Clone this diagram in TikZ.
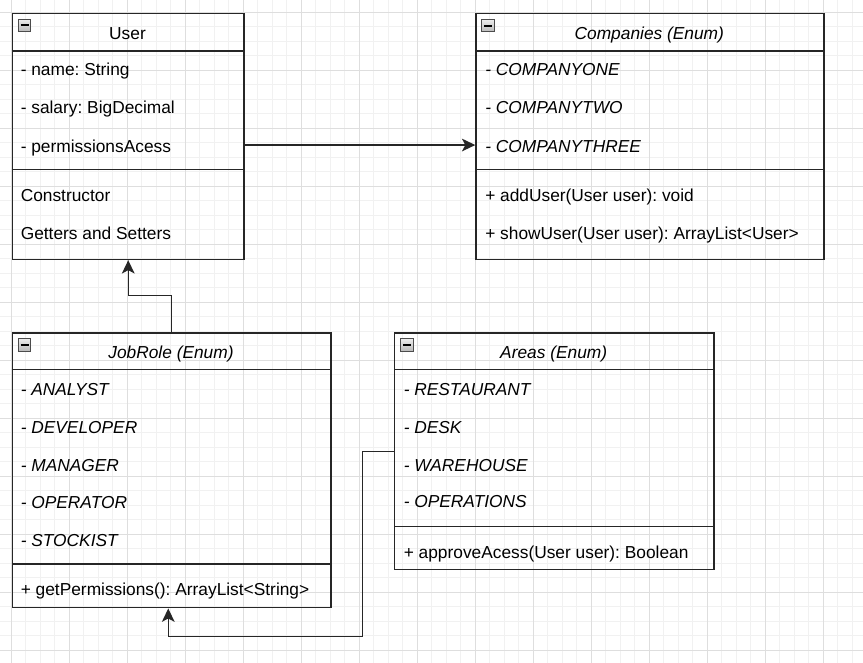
\documentclass[tikz,border=0pt]{standalone}
\usepackage{fontspec}
\setmainfont{Liberation Sans}
\usetikzlibrary{arrows.meta}
\usetikzlibrary{calc}
\frenchspacing
\definecolor{gridmajor}{RGB}{222,222,222}
\definecolor{gridminor}{RGB}{241,241,241}
\definecolor{umlline}{RGB}{38,38,38}
\tikzset{
  classbox/.style={draw=umlline, line width=1.1pt, rectangle, inner sep=0pt, anchor=north west},
  divider/.style={draw=umlline, line width=1.1pt},
  classtitle/.style={anchor=base, inner sep=0pt, font=\fontsize{13}{15}\selectfont},
  member/.style={anchor=base west, inner sep=0pt, font=\fontsize{13}{15}\selectfont},
  iconbox/.style={draw=gray!60!black, line width=0.75pt, top color=gray!15, bottom color=gray!55},
  assoc/.style={draw=umlline, line width=1.1pt, -{Stealth[length=10pt,width=9.5pt,inset=2.5pt]}}
}
\newcommand{\umlbox}[4] {\node[classbox, minimum width=#3*0.75pt, minimum height=#4*0.75pt] (#1) at (#2) {};}
\newcommand{\umldivider}[2] {\draw[divider] ($(#1.north west)+(0,#2)$) -- ($(#1.north east)+(0,#2)$);}
\newcommand{\umlicon}[1] {\draw[iconbox] ($(#1.north west)+(6.5,6.5)$) rectangle ++(12.5,12.5); \draw[line width=1.5pt] ($(#1.north west)+(8.8,12.7)$) -- ++(8,0);}

\begin{document}
\begin{tikzpicture}[x=0.75pt,y=-0.75pt]
\useasboundingbox (0,0) rectangle (863,663);

% background grid
\begin{scope}
\clip (0,0) rectangle (863,663);
\foreach \i in {-1,...,60} \draw[gridminor, line width=0.75pt] ({11.3+14.5*\i},0) -- ++(0,663);
\foreach \i in {-1,...,46} \draw[gridminor, line width=0.75pt] (0,{12.3+14.5*\i}) -- ++(863,0);
\foreach \i in {0,...,14} \draw[gridmajor, line width=0.75pt] ({11.3+58*\i},0) -- ++(0,663);
\foreach \i in {0,...,11} \draw[gridmajor, line width=0.75pt] (0,{12.3+58*\i}) -- ++(863,0);
\end{scope}

% User
\umlbox{user}{11.7,12.7}{231.6}{246}
\umldivider{user}{38.3}
\umldivider{user}{156.6}
\umlicon{user}
\node[classtitle] (usertitle) at (127.5,39.3) {User};
\node[member] (uname) at (20.5,76) {- name: String};
\node[member] (usalary) at (20.5,114) {- salary: BigDecimal};
\node[member] (uperm) at (20.5,152) {- permissionsAcess};
\node[member] (uctor) at (20.5,201) {Constructor};
\node[member] (ugetset) at (20.5,239) {Getters and Setters};

% Companies
\umlbox{comps}{475.3,13}{348}{245.7}
\umldivider{comps}{38}
\umldivider{comps}{156.3}
\umlicon{comps}
\node[classtitle] (compstitle) at (649.3,39.3) {\itshape Companies (Enum)};
\node[member] (cone) at (485,76) {\itshape - COMPANYONE};
\node[member] (ctwo) at (485,114) {\itshape - COMPANYTWO};
\node[member] (cthree) at (485,152) {\itshape - COMPANYTHREE};
\node[member] (cadd) at (485,201) {+ addUser(User user): void};
\node[member] (cshow) at (485,239) {+ showUser(User user): ArrayList<User>};

% JobRole
\umlbox{jobrole}{11.7,332.3}{318.6}{274.7}
\umldivider{jobrole}{37}
\umldivider{jobrole}{231.7}
\umlicon{jobrole}
\node[classtitle] (jobtitle) at (171,358.3) {\itshape JobRole (Enum)};
\node[member] (janalyst) at (20.5,395) {\itshape - ANALYST};
\node[member] (jdev) at (20.5,433) {\itshape - DEVELOPER};
\node[member] (jmanager) at (20.5,471) {\itshape - MANAGER};
\node[member] (joperator) at (20.5,508) {\itshape - OPERATOR};
\node[member] (jstockist) at (20.5,546) {\itshape - STOCKIST};
\node[member] (jperm) at (20.5,595) {+ getPermissions(): ArrayList<String>};

% Areas
\umlbox{areas}{394,332.3}{319.3}{236.7}
\umldivider{areas}{37}
\umldivider{areas}{194}
\umlicon{areas}
\node[classtitle] (areastitle) at (553.7,358.3) {\itshape Areas (Enum)};
\node[member] (arest) at (403.5,395.3) {\itshape - RESTAURANT};
\node[member] (adesk) at (403.5,433.3) {\itshape - DESK};
\node[member] (aware) at (403.5,471) {\itshape - WAREHOUSE};
\node[member] (aops) at (403.5,507.7) {\itshape - OPERATIONS};
\node[member] (aapprove) at (403.5,558.3) {+ approveAcess(User user): Boolean};

% connectors
\coordinate (permexit) at ($(user.east)+(0,8.6)$);
\draw[assoc] (permexit) -- (comps.west |- permexit);
\draw[assoc] (jobrole.north) -- ++(0,-36.6) -| (user.south);
\draw[assoc] (areas.west) -| ++(-31.5,185.3) -| ([xshift=-2.6pt]jobrole.south);
\end{tikzpicture}
\end{document}
